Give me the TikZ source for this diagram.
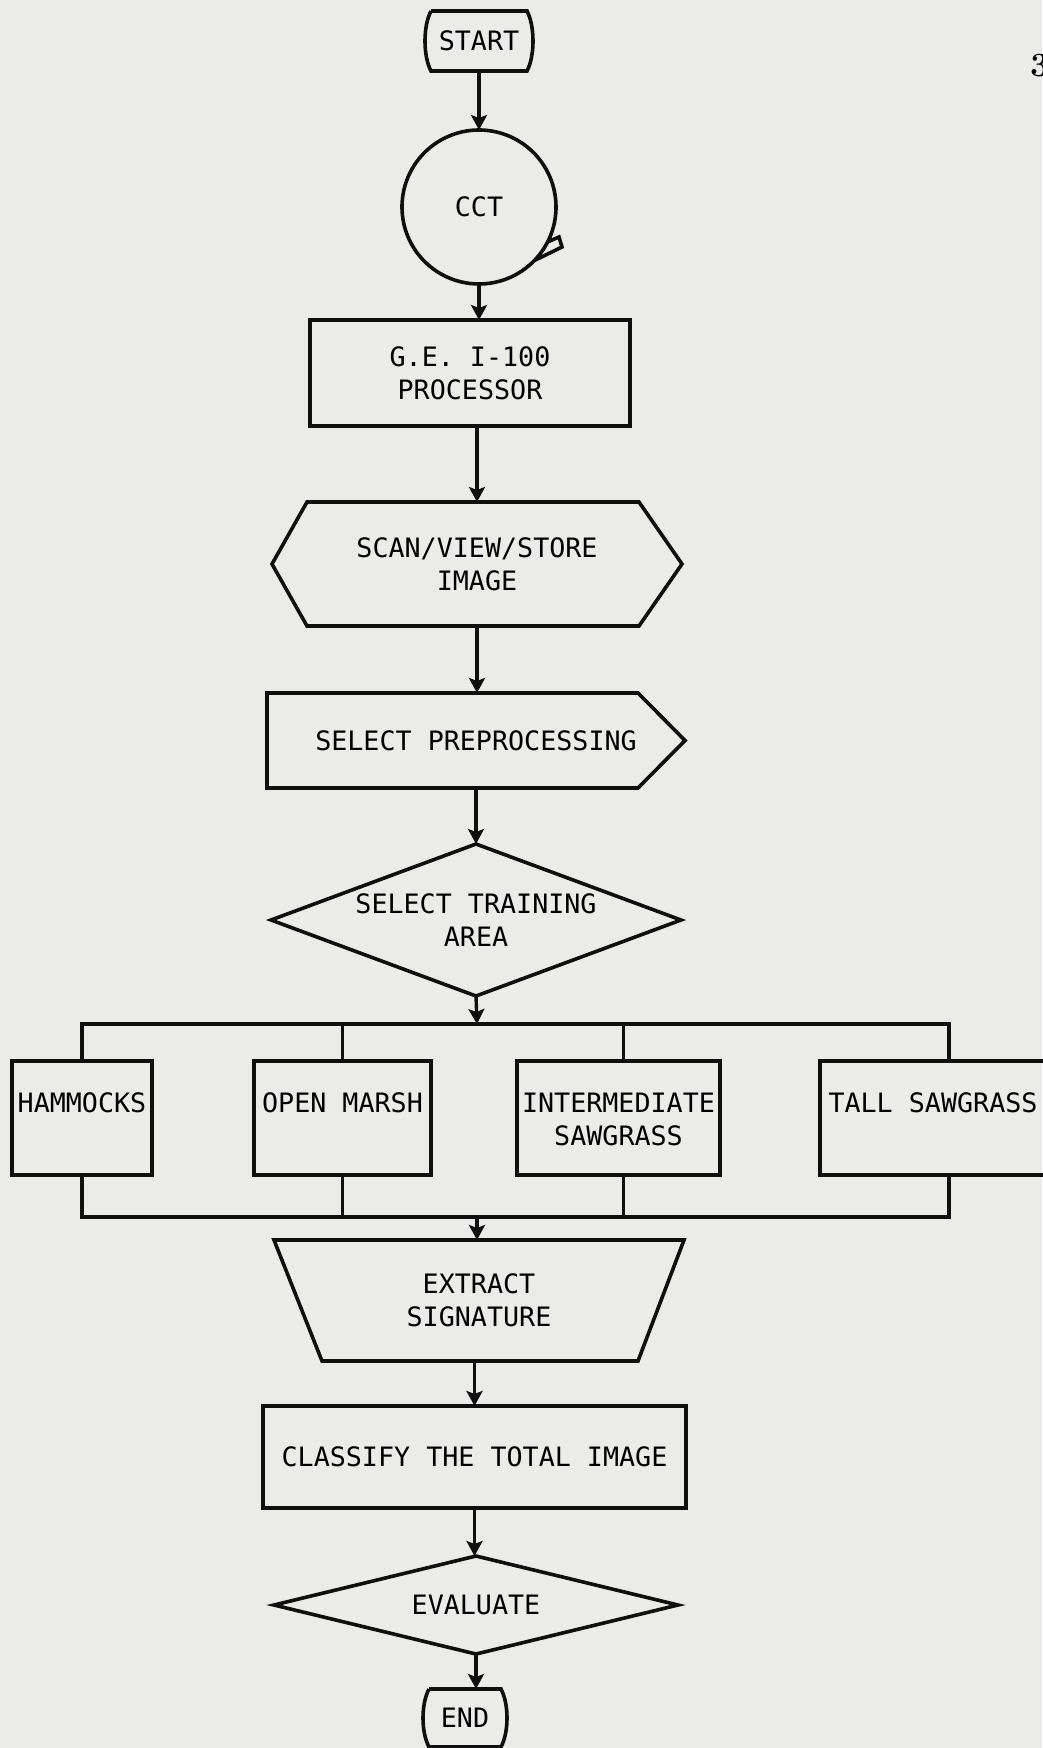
\documentclass[tikz,border=0pt]{standalone}
\usepackage{fontspec}
\setmonofont{DejaVu Sans Mono}
\usetikzlibrary{arrows.meta}
\definecolor{paper}{RGB}{235,235,233}
\definecolor{ink}{RGB}{15,15,15}
\tikzstyle{block}=[rectangle, draw=none, inner sep=0pt, outer sep=0pt, align=center]
\tikzstyle{procbox}=[block, draw=ink, line width=3.6pt]
\tikzstyle{cover}=[rectangle, draw=ink, line width=3.6pt, inner sep=0pt, outer sep=0pt,
    minimum height=114pt, text height=51.5pt, text depth=62.5pt]
\tikzstyle{shapeline}=[draw=ink, line width=3.6pt, line join=miter]
\tikzstyle{bus}=[draw=ink, line width=3.4pt]
\newcommand{\block}{\node[block]}

\begin{document}
\begin{tikzpicture}[x=1pt, y=1pt, font=\ttfamily\fontsize{26.7}{33}\selectfont
    ,every edge/.style={
        draw=ink, line width=3.4pt,
        -{Stealth[length=15pt,width=16pt,inset=3pt]} }
]
\path[use as bounding box, fill=paper] (0,0) rectangle (1042,-1748);

% main column
\block[minimum width=96pt, minimum height=60pt] (start) at (479,-41) {START};
\block[circle, minimum size=154pt] (cct) at (479,-207) {CCT};
\node[procbox, minimum width=320pt, minimum height=106pt] (proc) at (470,-373) {G.E. I-100\\PROCESSOR};
\block[minimum width=410pt, minimum height=124pt] (scan) at (477,-564) {SCAN/VIEW/STORE\\IMAGE};
\block[minimum width=418pt, minimum height=95pt] (prep) at (476,-740.5) {SELECT PREPROCESSING};
\block[minimum width=410pt, minimum height=152pt] (train) at (476,-920) {SELECT TRAINING\\AREA};

% training classes
\node[cover, minimum width=140pt] (ham) at (82,-1118) {HAMMOCKS};
\node[cover, minimum width=177pt] (marsh) at (342.5,-1118) {OPEN MARSH};
\node[cover, minimum width=203pt] (inter) at (618.5,-1118)
    {\begin{tabular}[t]{@{}c@{}}INTERMEDIATE\\SAWGRASS\end{tabular}};
\node[cover, minimum width=226pt] (tall) at (933,-1118) {TALL SAWGRASS};
\coordinate (split) at (477,-1024);
\coordinate (join) at (477,-1217);

\block[minimum width=410pt, minimum height=121pt] (extract) at (479,-1300.5) {EXTRACT\\SIGNATURE};
\node[procbox, minimum width=423pt, minimum height=102pt] (classify) at (474.5,-1457) {CLASSIFY THE TOTAL IMAGE};
\block[minimum width=404pt, minimum height=98pt] (evaluate) at (476,-1605) {EVALUATE};
\block[minimum width=72pt, minimum height=58pt] (stop) at (465,-1718) {END};

\node[font=\rmfamily\bfseries\fontsize{34}{40}\selectfont, anchor=west, inner sep=0pt] (pagenum) at (1030,-66) {3};

% outlines
\draw[shapeline] (start.north west) -- (start.north east) .. controls +(8,-15) and +(8,15) .. (start.south east)
    -- (start.south west) .. controls +(-8,15) and +(-8,-15) .. (start.north west);
\draw[shapeline] (stop.north west) -- (stop.north east) .. controls +(8,-15) and +(8,15) .. (stop.south east)
    -- (stop.south west) .. controls +(-8,15) and +(-8,-15) .. (stop.north west);
\draw[shapeline] (cct.-44) arc[start angle=-44, end angle=333, radius=77]
    -- ([shift={(80,-30)}]cct.center) -- ([shift={(83,-40)}]cct.center) -- cycle;
\draw[shapeline] ([xshift=35pt]scan.north west) -- ([xshift=-43pt]scan.north east) -- (scan.east)
    -- ([xshift=-43pt]scan.south east) -- ([xshift=35pt]scan.south west) -- (scan.west) -- cycle;
\draw[shapeline] (prep.north west) -- ([xshift=-47pt]prep.north east) -- (prep.east)
    -- ([xshift=-47pt]prep.south east) -- (prep.south west) -- cycle;
\draw[shapeline] (train.north) -- (train.east) -- (train.south) -- (train.west) -- cycle;
\draw[shapeline] (evaluate.north) -- (evaluate.east) -- (evaluate.south) -- (evaluate.west) -- cycle;
\draw[shapeline] (extract.north west) -- (extract.north east) -- ([xshift=-46pt]extract.south east)
    -- ([xshift=48pt]extract.south west) -- cycle;

% branches
\draw[bus] (ham.north) |- (split) -| ([xshift=16pt]tall.north);
\draw[bus] (marsh.north) -- (marsh.north |- split) ([xshift=5pt]inter.north) -- ([xshift=5pt]inter.north |- split);
\draw[bus] (ham.south) |- (join) -| ([xshift=16pt]tall.south);
\draw[bus] (marsh.south) -- (marsh.south |- join) ([xshift=5pt]inter.south) -- ([xshift=5pt]inter.south |- join);

\path
(start) edge (cct)
(cct.south) edge (cct.south |- proc.north)
(scan.north |- proc.south) edge (scan.north)
(scan.south) edge (scan.south |- prep.north)
(prep.south) edge (prep.south |- train.north)
(train.south) edge (split)
(join) edge (join |- extract.north)
(classify.north |- extract.south) edge (classify.north)
(classify.south) edge (classify.south |- evaluate.north)
(evaluate.south) edge (evaluate.south |- stop.north)
;
\end{tikzpicture}
\end{document}
